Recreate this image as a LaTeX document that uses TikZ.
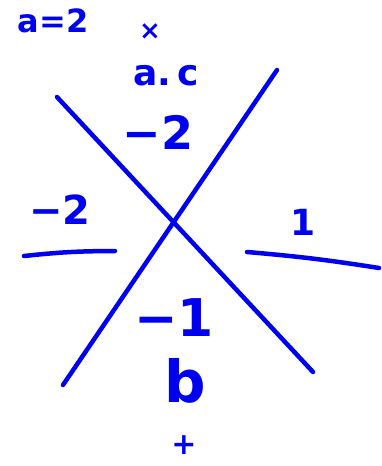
\documentclass[tikz,border=0pt]{standalone}
\usepackage{fontspec}
\setmainfont{DejaVu Sans}[BoldFont={DejaVu Sans Bold}]
\definecolor{ink}{RGB}{0,0,240}
\tikzset{
  stroke/.style={draw=ink, line width=4.5pt, line cap=round},
  hw/.style={text=ink, inner sep=0pt, anchor=center, font=\bfseries},
}
\newcommand{\fs}[1]{\fontsize{#1}{#1}\selectfont}
\begin{document}
\begin{tikzpicture}[x=1pt,y=-1pt]
\useasboundingbox (0,0) rectangle (382,466);
% diagonals
\coordinate (d1s) at (57,97);
\coordinate (d1e) at (313,372);
\coordinate (d2s) at (277,70);
\coordinate (d2e) at (63,385);
\draw[stroke] (d1s) -- (d1e);
\draw[stroke] (d2s) -- (d2e);
% horizontal bars
\coordinate (hl1) at (24,256);
\coordinate (hl2) at (115,251);
\coordinate (hr1) at (247,252);
\coordinate (hr2) at (379,268);
\draw[stroke] (hl1) to[bend left=3] (hl2);
\draw[stroke] (hr1) to[bend left=2] (hr2);
% labels
\node[hw] (t1) at (53,21) {\fs{32}a=2};
\node[hw] (t2) at (150,32) {\fs{26}×};
\node[hw] (t3) at (166,76) {\fs{36}a.\,c};
\node[hw] (t4) at (158,132) {\fs{46}−2};
\node[hw] (t5) at (60,210) {\fs{40}−2};
\node[hw] (t6) at (303,222) {\fs{36}1};
\node[hw] (t7) at (174,318) {\fs{52}−1};
\node[hw] (t8) at (185,381) {\fs{58}b};
\node[hw, text height=20pt, text depth=1pt, anchor=base] (t9) at (184,454) {\fs{30}+};
\end{tikzpicture}
\end{document}
